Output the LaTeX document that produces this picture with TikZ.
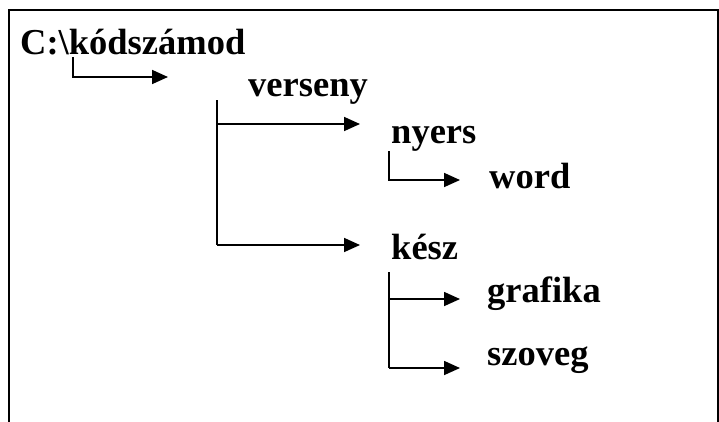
\documentclass[tikz,border=0pt]{standalone}
\usepackage{fontspec}
\setmainfont{Liberation Serif}
\usetikzlibrary{arrows.meta}
\begin{document}
\begin{tikzpicture}[x=1pt,y=-1pt,
  lbl/.style={anchor=base west,inner sep=0pt,font=\bfseries\fontsize{36.5}{40}\selectfont},
  conn/.style={line width=1.7pt},
  arr/.style={conn,-{Triangle[length=16pt,width=14pt]}},
  frame/.style={line width=2pt}]
\useasboundingbox (0,0) rectangle (719,421);
% frame
\draw[frame] (9,422) -- (9,10) -- (718,10) -- (718,422);
% labels
\node[lbl] (root) at (20,54) {C:\textbackslash kódszámod};
\node[lbl] (vers) at (248,96) {verseny};
\node[lbl] (nyers) at (391,143) {nyers};
\node[lbl] (word) at (489,188) {word};
\node[lbl] (kesz) at (391,259) {kész};
\node[lbl] (graf) at (487,302) {grafika};
\node[lbl] (szov) at (487,365) {szoveg};
% connector coordinates
\coordinate (r0) at (73,57);
\coordinate (r1) at (73,77);
\coordinate (rt) at (168,77);
\coordinate (v0) at (217,100);
\coordinate (v1) at (217,124);
\coordinate (v2) at (217,245);
\coordinate (vt1) at (360,124);
\coordinate (vt2) at (360,245);
\coordinate (n0) at (389,151);
\coordinate (n1) at (389,180);
\coordinate (nt) at (460,180);
\coordinate (k0) at (389,272);
\coordinate (k1) at (389,299);
\coordinate (k2) at (389,368);
\coordinate (kt1) at (460,299);
\coordinate (kt2) at (460,368);
% connectors
\draw[arr] (r0) -- (r1) -- (rt);
\draw[conn] (v0) -- (v2);
\draw[arr] (v1) -- (vt1);
\draw[arr] (v2) -- (vt2);
\draw[arr] (n0) -- (n1) -- (nt);
\draw[conn] (k0) -- (k2);
\draw[arr] (k1) -- (kt1);
\draw[arr] (k2) -- (kt2);
\end{tikzpicture}
\end{document}
